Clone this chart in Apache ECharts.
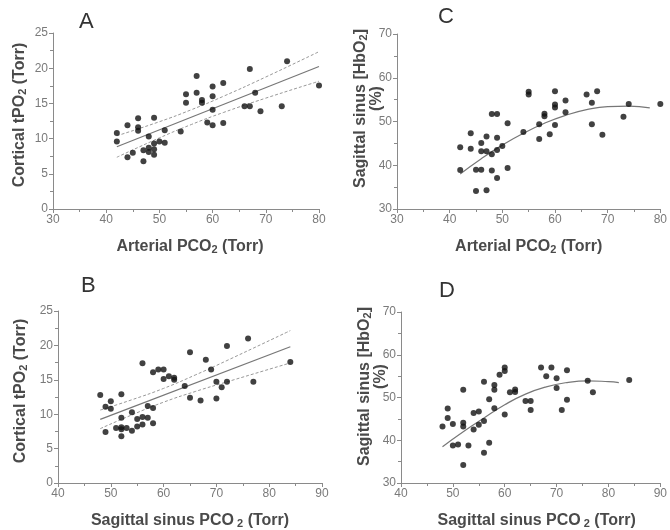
<!DOCTYPE html>
<html>
<head>
<meta charset="utf-8">
<script src="https://cdn.jsdelivr.net/npm/echarts@6/dist/echarts.min.js"></script>
<style>
  html, body { margin: 0; padding: 0; background: #fff; }
  #chart { width: 670px; height: 530px; }
</style>
</head>
<body>
<div id="chart"></div>
<script>
// Panel A: cortical tPO2 vs arterial PCO2
const aX = [42, 42, 44, 44, 45, 46, 46, 46, 47, 47, 48, 48, 48, 49, 49, 49, 49, 50, 51, 51, 54,
  55, 55, 57, 57, 58, 58, 59, 60, 60, 60, 60, 62, 62, 66, 67, 67, 68, 69, 73, 74, 80];
const aY = [10.8, 9.6, 11.9, 7.35, 8.0, 12.9, 11.6, 11.1, 8.35, 6.8, 10.3, 8.7, 8.1, 12.95, 9.3, 8.5, 7.7, 9.6, 9.4, 11.2, 11.0,
  16.3, 15.1, 18.9, 16.5, 15.5, 15.1, 12.3, 17.4, 16.0, 14.1, 11.9, 17.9, 12.2, 14.6, 19.9, 14.6, 16.5, 13.9, 14.6, 21.0, 17.55];
const aFitX = [42, 80];
const aFitY = [8.85, 20.25];
const aBandX = [42, 50, 56, 62, 70, 80];
const aUpper = [10.4, 12.4, 14.1, 16.0, 18.75, 22.35];
const aLower = [7.35, 10.1, 12.0, 13.7, 15.75, 18.15];

// Panel B: cortical tPO2 vs sagittal sinus PCO2
const bX = [48, 49, 49, 50, 50, 51, 52, 52, 52, 52, 52, 53, 54, 54, 55, 55, 56, 56, 56, 57, 57, 58,
  58, 58, 59, 60, 60, 61, 62, 62, 64, 65, 65, 67, 68, 69, 70, 70, 71, 72, 72, 76, 77, 84];
const bY = [12.8, 11.1, 7.4, 11.9, 10.8, 8.0, 12.9, 9.5, 8.1, 7.8, 6.8, 8.0, 10.3, 7.6, 9.3, 8.2, 17.4, 9.6, 8.5, 11.2, 9.5, 10.9,
  8.7, 16.1, 16.5, 16.5, 15.1, 15.5, 15.3, 15.0, 14.1, 19.0, 12.4, 12.0, 17.9, 16.5, 14.7, 12.3, 13.9, 14.7, 19.9, 21.0, 14.7, 17.6];
const bFitX = [48, 84];
const bFitY = [9.25, 19.8];
const bBandX = [48, 54, 60, 66, 72, 84];
const bUpper = [10.6, 12.1, 13.75, 15.7, 17.8, 22.15];
const bLower = [7.9, 9.9, 11.75, 13.3, 14.7, 17.45];

// Panel C: sagittal sinus HbO2 vs arterial PCO2
const cX = [42, 42, 44, 44, 45, 45, 46, 46, 46, 47, 47, 47, 48, 48, 48, 49, 49, 49, 49, 50, 51, 51,
  54, 55, 55, 57, 57, 58, 58, 59, 60, 60, 60, 60, 62, 62, 66, 67, 67, 68, 69, 73, 74, 80];
const cY = [44.1, 38.9, 47.3, 43.8, 39.0, 34.1, 45.1, 43.2, 39.0, 46.6, 43.2, 34.3, 51.7, 42.5, 38.8, 51.7, 46.3, 43.5, 37.1, 44.4, 49.6, 39.4,
  47.6, 56.8, 56.2, 49.4, 46.0, 51.8, 51.2, 47.1, 56.9, 53.9, 53.2, 49.2, 54.8, 52.1, 56.2, 54.3, 49.4, 56.9, 47.0, 51.1, 54.0, 54.0];
const cFitX = [42, 46, 50, 54, 58, 62, 66, 70, 74, 78];
const cFitY = [38.0, 41.5, 44.6, 47.3, 49.6, 51.4, 52.7, 53.4, 53.5, 53.1];

// Panel D: sagittal sinus HbO2 vs sagittal sinus PCO2
const dX = [48, 49, 49, 50, 50, 51, 52, 52, 52, 52, 53, 54, 54, 55, 55, 56, 56, 56, 57, 57, 58, 58, 58,
  59, 60, 60, 60, 61, 62, 62, 64, 65, 65, 67, 68, 69, 70, 70, 71, 72, 72, 76, 77, 84];
const dY = [43.2, 45.2, 47.4, 43.8, 38.8, 39.0, 51.8, 44.1, 43.2, 34.2, 38.8, 46.4, 42.5, 46.7, 43.6, 53.7, 44.5, 37.1, 49.6, 39.4, 52.9, 51.8, 47.5,
  55.3, 57.0, 56.2, 46.0, 51.2, 51.9, 51.3, 49.2, 49.2, 47.1, 57.0, 55.0, 57.0, 54.5, 52.2, 47.1, 56.4, 49.5, 53.9, 51.2, 54.1];
const dFitX = [48, 52, 56, 60, 64, 68, 72, 76, 80, 82];
const dFitY = [38.5, 42.0, 45.2, 48.3, 50.8, 52.5, 53.5, 53.9, 53.7, 53.5];

const zip = (xs, ys) => xs.map((x, i) => [x, ys[i]]);

const axisColor = "#8a8a8a";
const labelColor = "#7a7a7a";
const nameColor = "#4a4a4a";
const font = "Liberation Sans, Arial, sans-serif";

const nameRich = {
  n: { fontSize: 16, fontWeight: "bold", color: nameColor, fontFamily: font, lineHeight: 16 },
  s: { fontSize: 11, fontWeight: "bold", color: nameColor, fontFamily: font, lineHeight: 4, verticalAlign: "bottom" },
  // "(%)" line sits a little higher than the first line in the original
  p: { fontSize: 16, fontWeight: "bold", color: nameColor, fontFamily: font, lineHeight: 16, padding: [0, 0, 0, 20] },
};

// shift = pixels to move the name along the axis (right for x, up for y)
const makeX = (idx, min, max, name, shift) => ({
  type: "value",
  gridIndex: idx,
  min: min,
  max: max,
  interval: 10,
  name: name,
  nameLocation: "middle",
  nameGap: 30,
  nameMoveOverlap: false,
  nameTextStyle: { rich: nameRich, padding: [0, 0, 0, shift * 2] },
  splitLine: { show: false },
  axisLine: { onZero: false, lineStyle: { color: axisColor, width: 1 } },
  axisTick: { show: true, length: 4, lineStyle: { color: axisColor } },
  minorTick: { show: true, splitNumber: 2, length: 3, lineStyle: { color: axisColor } },
  axisLabel: { color: labelColor, fontSize: 12, fontFamily: font, margin: 5 },
});

const makeY = (idx, min, max, interval, name, gap, shift) => ({
  type: "value",
  gridIndex: idx,
  min: min,
  max: max,
  interval: interval,
  name: name,
  nameLocation: "middle",
  nameRotate: 90,
  nameGap: gap,
  nameMoveOverlap: false,
  nameTextStyle: { rich: nameRich, padding: [0, 0, 0, shift * 2] },
  splitLine: { show: false },
  axisLine: { show: true, onZero: false, lineStyle: { color: axisColor, width: 1 } },
  axisTick: { show: true, length: 4, lineStyle: { color: axisColor } },
  minorTick: { show: true, splitNumber: 2, length: 3, lineStyle: { color: axisColor } },
  axisLabel: { color: labelColor, fontSize: 12, fontFamily: font, margin: 5 },
});

const dots = (idx, xs, ys) => ({
  type: "scatter",
  xAxisIndex: idx,
  yAxisIndex: idx,
  data: zip(xs, ys),
  symbolSize: 6,
  itemStyle: { color: "#111" },
  silent: true,
  z: 5,
});

const fitLine = (idx, xs, ys, smooth) => ({
  type: "line",
  xAxisIndex: idx,
  yAxisIndex: idx,
  data: zip(xs, ys),
  showSymbol: false,
  smooth: smooth,
  lineStyle: { color: "#777", width: 1.2 },
  silent: true,
});

const band = (idx, xs, ys) => ({
  type: "line",
  xAxisIndex: idx,
  yAxisIndex: idx,
  data: zip(xs, ys),
  showSymbol: false,
  smooth: true,
  lineStyle: { color: "#999", width: 1, type: [3, 2] },
  silent: true,
});

const tpoName = "{n|Cortical tPO}{s|2}{n| (Torr)}";
const hbName = "{n|Sagittal sinus [HbO}{s|2}{n|]}\n{p|(%)}";
const artName = "{n|Arterial PCO}{s|2}{n| (Torr)}";
const sagName = "{n|Sagittal sinus PCO}{s| 2}{n| (Torr)}";

const myChart = echarts.init(document.getElementById("chart"));
myChart.setOption({
  animation: false,
  backgroundColor: "#fff",
  title: [
    { text: "A", left: 79, top: 11 },
    { text: "C", left: 438, top: 6 },
    { text: "B", left: 81, top: 275 },
    { text: "D", left: 439, top: 280 },
  ].map((t) => ({
    ...t,
    padding: 0,
    textStyle: { fontSize: 22, fontWeight: "normal", color: "#333", fontFamily: font },
  })),
  grid: [
    { left: 53, top: 33, width: 266, height: 176 },
    { left: 397, top: 34, width: 264, height: 175 },
    { left: 58, top: 311, width: 264, height: 175 },
    { left: 401, top: 312, width: 262, height: 173 },
  ],
  xAxis: [
    makeX(0, 30, 80, artName, 4),
    makeX(1, 30, 80, artName, 0),
    makeX(2, 40, 90, sagName, 0),
    makeX(3, 40, 90, sagName, 6),
  ],
  yAxis: [
    makeY(0, 0, 25, 5, tpoName, 25, 6),
    makeY(1, 30, 70, 10, hbName, 12, 13),
    makeY(2, 0, 25, 5, tpoName, 29, 6),
    makeY(3, 30, 70, 10, hbName, 12, 11),
  ],
  series: [
    band(0, aBandX, aUpper),
    band(0, aBandX, aLower),
    fitLine(0, aFitX, aFitY, false),
    dots(0, aX, aY),
    fitLine(1, cFitX, cFitY, true),
    dots(1, cX, cY),
    band(2, bBandX, bUpper),
    band(2, bBandX, bLower),
    fitLine(2, bFitX, bFitY, false),
    dots(2, bX, bY),
    fitLine(3, dFitX, dFitY, true),
    dots(3, dX, dY),
  ],
});
</script>
</body>
</html>
